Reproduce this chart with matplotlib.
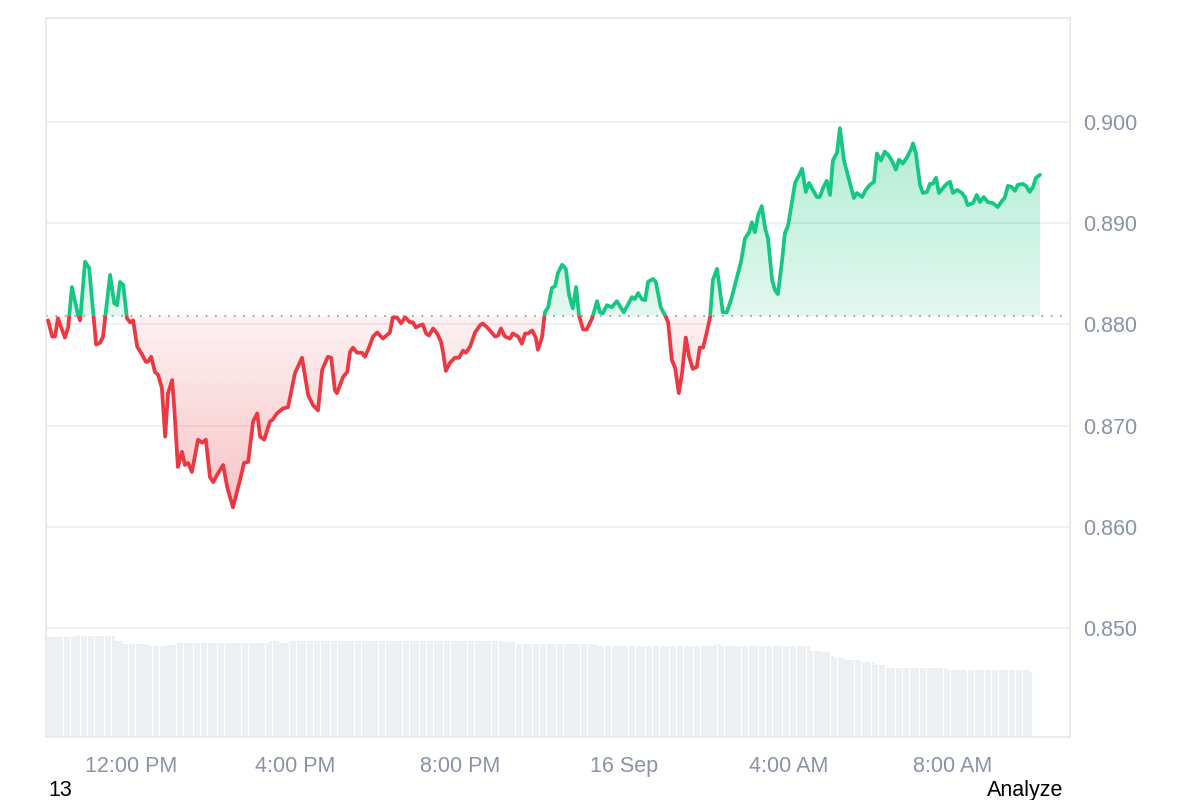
import matplotlib

matplotlib.use("Agg")
import matplotlib.colors as mcolors
import matplotlib.pyplot as plt
import numpy as np
from matplotlib.patches import Rectangle
from matplotlib.path import Path

# Price over 24h; time in hours since 15 Sep 00:00 (values > 24 are 16 Sep)
hours = [
    9.98, 10.08, 10.15, 10.22, 10.39, 10.47, 10.56, 10.71, 10.76, 10.88,
    10.98, 11.15, 11.25, 11.32, 11.37, 11.49, 11.59, 11.66, 11.73, 11.81,
    11.90, 11.98, 12.05, 12.15, 12.27, 12.36, 12.41, 12.49, 12.58, 12.66,
    12.75, 12.83, 12.90, 13.00, 13.05, 13.14, 13.24, 13.31, 13.39, 13.48,
    13.63, 13.73, 13.82, 13.92, 14.00, 14.09, 14.24, 14.34, 14.48, 14.65,
    14.75, 14.85, 14.97, 15.07, 15.14, 15.24, 15.38, 15.45, 15.55, 15.70,
    15.82, 15.99, 16.16, 16.31, 16.43, 16.55, 16.65, 16.79, 16.87, 16.96,
    17.01, 17.16, 17.26, 17.33, 17.40, 17.50, 17.62, 17.69, 17.77, 17.89,
    17.99, 18.13, 18.30, 18.37, 18.47, 18.57, 18.67, 18.79, 18.86, 18.93,
    19.03, 19.10, 19.18, 19.25, 19.35, 19.45, 19.54, 19.59, 19.66, 19.76,
    19.88, 19.98, 20.08, 20.15, 20.25, 20.37, 20.49, 20.56, 20.69, 20.86,
    20.93, 21.00, 21.10, 21.22, 21.29, 21.42, 21.51, 21.59, 21.66, 21.76,
    21.85, 21.90, 22.00, 22.07, 22.15, 22.24, 22.32, 22.39, 22.49, 22.58,
    22.66, 22.75, 22.83, 22.90, 23.00, 23.09, 23.22, 23.34, 23.41, 23.48,
    23.58, 23.70, 23.82, 23.99, 24.19, 24.26, 24.34, 24.43, 24.51, 24.58,
    24.70, 24.77, 24.89, 25.02, 25.07, 25.16, 25.24, 25.33, 25.41, 25.50,
    25.58, 25.67, 25.77, 25.84, 25.92, 26.01, 26.09, 26.16, 26.26, 26.33,
    26.40, 26.50, 26.62, 26.74, 26.84, 26.94, 27.04, 27.11, 27.18, 27.26,
    27.35, 27.43, 27.50, 27.60, 27.67, 27.74, 27.84, 27.91, 27.99, 28.16,
    28.25, 28.33, 28.42, 28.50, 28.59, 28.69, 28.76, 28.84, 28.93, 29.01,
    29.08, 29.18, 29.25, 29.35, 29.44, 29.59, 29.66, 29.79, 29.88, 29.98,
    30.08, 30.15, 30.25, 30.34, 30.44, 30.54, 30.61, 30.69, 30.78, 30.88,
    30.98, 31.03, 31.10, 31.20, 31.27, 31.37, 31.44, 31.51, 31.59, 31.66,
    31.76, 31.85, 31.93, 32.00, 32.10, 32.22, 32.29, 32.36, 32.49, 32.58,
    32.66, 32.75, 32.85, 32.97, 33.09, 33.19, 33.26, 33.34, 33.43, 33.51,
    33.58, 33.70, 33.78, 33.87, 33.95, 34.02, 34.12,
]
prices = [
    0.8804, 0.8788, 0.8788, 0.8806, 0.8787, 0.8797, 0.8837, 0.8809, 0.8804, 0.8862,
    0.8856, 0.8780, 0.8782, 0.8788, 0.8807, 0.8849, 0.8821, 0.8819, 0.8842, 0.8839,
    0.8806, 0.8802, 0.8804, 0.8778, 0.8770, 0.8763, 0.8763, 0.8768, 0.8753, 0.8750,
    0.8737, 0.8689, 0.8732, 0.8745, 0.8718, 0.8659, 0.8674, 0.8661, 0.8663, 0.8654,
    0.8686, 0.8683, 0.8686, 0.8649, 0.8644, 0.8651, 0.8661, 0.8639, 0.8619, 0.8646,
    0.8663, 0.8664, 0.8704, 0.8712, 0.8689, 0.8686, 0.8704, 0.8706, 0.8712, 0.8717,
    0.8718, 0.8752, 0.8767, 0.8730, 0.8720, 0.8715, 0.8755, 0.8768, 0.8767, 0.8735,
    0.8732, 0.8748, 0.8753, 0.8773, 0.8777, 0.8772, 0.8772, 0.8768, 0.8775, 0.8788,
    0.8792, 0.8786, 0.8792, 0.8807, 0.8807, 0.8801, 0.8807, 0.8802, 0.8802, 0.8797,
    0.8799, 0.8800, 0.8791, 0.8789, 0.8796, 0.8791, 0.8783, 0.8773, 0.8754, 0.8762,
    0.8767, 0.8767, 0.8774, 0.8772, 0.8778, 0.8792, 0.8799, 0.8801, 0.8796, 0.8788,
    0.8789, 0.8796, 0.8788, 0.8786, 0.8791, 0.8788, 0.8781, 0.8791, 0.8791, 0.8794,
    0.8787, 0.8775, 0.8787, 0.8812, 0.8817, 0.8836, 0.8838, 0.8851, 0.8859, 0.8855,
    0.8829, 0.8816, 0.8837, 0.8809, 0.8795, 0.8795, 0.8806, 0.8823, 0.8812, 0.8811,
    0.8819, 0.8817, 0.8823, 0.8812, 0.8827, 0.8825, 0.8831, 0.8825, 0.8824, 0.8842,
    0.8845, 0.8842, 0.8817, 0.8807, 0.8802, 0.8765, 0.8757, 0.8732, 0.8752, 0.8787,
    0.8768, 0.8756, 0.8758, 0.8777, 0.8777, 0.8792, 0.8807, 0.8844, 0.8855, 0.8834,
    0.8812, 0.8812, 0.8827, 0.8846, 0.8861, 0.8885, 0.8891, 0.8901, 0.8891, 0.8908,
    0.8917, 0.8895, 0.8885, 0.8844, 0.8834, 0.8830, 0.8862, 0.8890, 0.8898, 0.8940,
    0.8947, 0.8954, 0.8931, 0.8940, 0.8933, 0.8926, 0.8926, 0.8935, 0.8942, 0.8928,
    0.8962, 0.8970, 0.8994, 0.8962, 0.8948, 0.8925, 0.8930, 0.8926, 0.8933, 0.8938,
    0.8941, 0.8969, 0.8962, 0.8971, 0.8967, 0.8960, 0.8953, 0.8963, 0.8959, 0.8965,
    0.8973, 0.8979, 0.8969, 0.8938, 0.8930, 0.8931, 0.8939, 0.8939, 0.8945, 0.8930,
    0.8935, 0.8939, 0.8941, 0.8930, 0.8933, 0.8930, 0.8926, 0.8918, 0.8920, 0.8928,
    0.8921, 0.8926, 0.8921, 0.8920, 0.8916, 0.8922, 0.8925, 0.8937, 0.8936, 0.8932,
    0.8938, 0.8939, 0.8937, 0.8931, 0.8936, 0.8945, 0.8948,
]
base_price = 0.8808  # price at the start of the window (dotted line)

# 5-minute volume bars (relative units), one row per hour
vol_start = 9.94
vol_step = 1 / 12
volume = [
    1.00, 1.00, 1.00, 1.00, 1.00, 1.00, 1.00, 1.00, 1.01, 1.01, 1.01, 1.01,
    1.01, 1.01, 1.01, 1.01, 1.01, 1.01, 1.01, 1.01, 0.96, 0.96, 0.93, 0.93,
    0.93, 0.93, 0.93, 0.93, 0.93, 0.93, 0.91, 0.91, 0.91, 0.91, 0.91, 0.92,
    0.92, 0.92, 0.94, 0.94, 0.94, 0.94, 0.94, 0.94, 0.94, 0.94, 0.94, 0.94,
    0.94, 0.94, 0.94, 0.94, 0.94, 0.94, 0.94, 0.94, 0.94, 0.94, 0.94, 0.94,
    0.94, 0.94, 0.94, 0.94, 0.94, 0.96, 0.96, 0.96, 0.94, 0.94, 0.94, 0.96,
    0.96, 0.96, 0.96, 0.96, 0.96, 0.96, 0.96, 0.96, 0.96, 0.96, 0.96, 0.96,
    0.96, 0.96, 0.96, 0.96, 0.96, 0.96, 0.96, 0.96, 0.96, 0.96, 0.96, 0.96,
    0.96, 0.96, 0.96, 0.96, 0.96, 0.96, 0.96, 0.96, 0.96, 0.96, 0.96, 0.96,
    0.96, 0.96, 0.96, 0.96, 0.96, 0.96, 0.96, 0.96, 0.96, 0.96, 0.96, 0.96,
    0.96, 0.96, 0.96, 0.96, 0.96, 0.96, 0.96, 0.96, 0.96, 0.96, 0.96, 0.96,
    0.96, 0.95, 0.95, 0.95, 0.95, 0.93, 0.93, 0.93, 0.93, 0.93, 0.93, 0.93,
    0.93, 0.93, 0.93, 0.93, 0.93, 0.93, 0.93, 0.93, 0.93, 0.93, 0.93, 0.93,
    0.93, 0.93, 0.93, 0.93, 0.93, 0.91, 0.91, 0.91, 0.91, 0.91, 0.91, 0.91,
    0.91, 0.91, 0.91, 0.91, 0.91, 0.91, 0.91, 0.91, 0.91, 0.91, 0.91, 0.91,
    0.91, 0.91, 0.91, 0.91, 0.91, 0.91, 0.91, 0.91, 0.91, 0.91, 0.91, 0.91,
    0.91, 0.91, 0.91, 0.93, 0.93, 0.91, 0.91, 0.91, 0.91, 0.91, 0.91, 0.91,
    0.91, 0.91, 0.91, 0.91, 0.91, 0.91, 0.91, 0.91, 0.91, 0.91, 0.91, 0.91,
    0.91, 0.91, 0.91, 0.91, 0.91, 0.91, 0.91, 0.86, 0.86, 0.86, 0.85, 0.85,
    0.85, 0.81, 0.79, 0.79, 0.79, 0.77, 0.77, 0.77, 0.77, 0.77, 0.75, 0.75,
    0.75, 0.75, 0.72, 0.72, 0.72, 0.69, 0.69, 0.69, 0.69, 0.69, 0.69, 0.69,
    0.69, 0.69, 0.69, 0.69, 0.69, 0.69, 0.69, 0.69, 0.69, 0.69, 0.69, 0.67,
    0.67, 0.67, 0.67, 0.67, 0.67, 0.67, 0.67, 0.67, 0.67, 0.67, 0.67, 0.67,
    0.67, 0.67, 0.67, 0.67, 0.67, 0.67, 0.67, 0.67, 0.67, 0.67, 0.67, 0.65,
]

tick_hours = [12, 16, 20, 24, 28, 32]
tick_labels = ["12:00 PM", "4:00 PM", "8:00 PM", "16 Sep", "4:00 AM", "8:00 AM"]
price_ticks = [0.850, 0.860, 0.870, 0.880, 0.890, 0.900]

GREEN = "#16c784"
RED = "#ea3943"
LABEL = "#8a93a6"

plt.rcParams["font.family"] = ["Liberation Sans", "DejaVu Sans"]

x = np.array(hours)
p = np.array(prices)
xlim = (9.93, 34.85)
ylim = (0.8392, 0.9103)

fig = plt.figure(figsize=(12, 8), dpi=100)
pos = [46 / 1200, 63 / 800, 1024 / 1200, 719 / 800]

# volume underneath
axv = fig.add_axes(pos)
vx = vol_start + vol_step * (np.arange(len(volume)) + 0.5)
axv.bar(vx, volume, width=vol_step * 0.9, color="#edf0f3", linewidth=0)
axv.set_xlim(xlim)
axv.set_ylim(0, 7.19)
axv.axis("off")

ax = fig.add_axes(pos)
ax.patch.set_visible(False)
ax.set_xlim(xlim)
ax.set_ylim(ylim)


def gradient_fill(poly, color, y_lo, y_hi, a_lo, a_hi):
    paths = poly.get_paths()
    if not paths:
        return
    img = np.zeros((256, 1, 4))
    img[:, 0, :3] = mcolors.to_rgb(color)
    img[:, 0, 3] = np.linspace(a_lo, a_hi, 256)
    im = ax.imshow(img, extent=[xlim[0], xlim[1], y_lo, y_hi], origin="lower",
                   aspect="auto", interpolation="bilinear", zorder=1)
    im.set_clip_path(Path.make_compound_path(*paths), transform=ax.transData)


up = ax.fill_between(x, p, base_price, where=p >= base_price, interpolate=True,
                     facecolor="none", edgecolor="none")
down = ax.fill_between(x, p, base_price, where=p <= base_price, interpolate=True,
                       facecolor="none", edgecolor="none")
gradient_fill(up, GREEN, base_price, p.max(), 0.12, 0.34)
gradient_fill(down, RED, p.min(), base_price, 0.30, 0.07)

# line coloured by side of the baseline
for color, y0, h in [(GREEN, base_price, ylim[1] - base_price),
                     (RED, ylim[0], base_price - ylim[0])]:
    (ln,) = ax.plot(x, p, color=color, lw=2.7, solid_joinstyle="round",
                    solid_capstyle="round", zorder=3)
    clip = Rectangle((xlim[0], y0), xlim[1] - xlim[0], h, transform=ax.transData)
    ln.set_clip_path(clip)

ax.axhline(base_price, color="#9aa0a8", lw=1.3, ls=(0, (1, 4.2)), zorder=2)

ax.set_ylim(ylim)
ax.set_xlim(xlim)
ax.set_yticks(price_ticks)
ax.set_yticklabels([f"{t:.3f}" for t in price_ticks])
ax.set_xticks(tick_hours)
ax.set_xticklabels(tick_labels)
ax.yaxis.tick_right()
ax.tick_params(axis="both", length=0, labelsize=15.5, labelcolor=LABEL)
ax.tick_params(axis="y", pad=9.5)
ax.tick_params(axis="x", pad=13.5)
ax.grid(axis="y", color="#eceef1", lw=1.2)
ax.set_axisbelow(True)
for s in ax.spines.values():
    s.set_color("#e4e6ea")
    s.set_linewidth(1.1)

fig.text(48 / 1200, 4 / 800, "13", fontsize=15.5, color="black", va="baseline")
fig.text(1063 / 1200, 4 / 800, "Analyze", fontsize=15.5, color="black",
         ha="right", va="baseline")

fig.savefig("out.png", dpi=100)
